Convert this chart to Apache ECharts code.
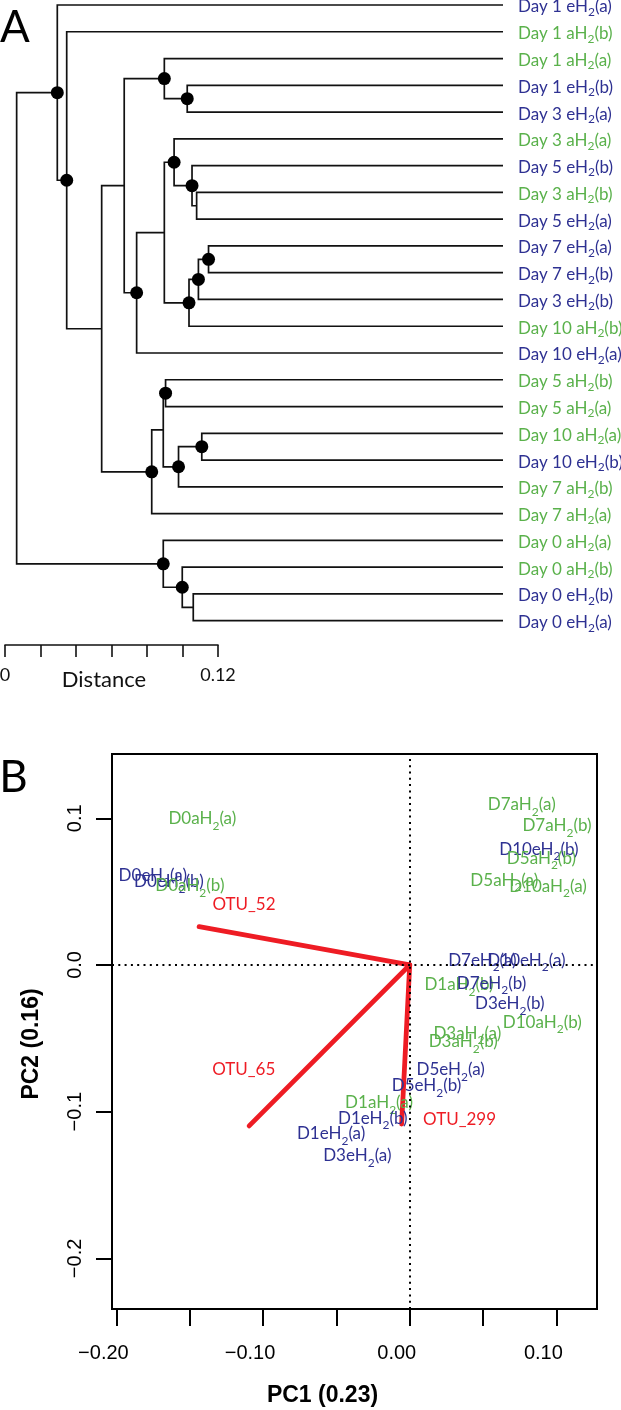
<!DOCTYPE html>
<html><head><meta charset="utf-8">
<script src="https://cdn.jsdelivr.net/npm/echarts@6/dist/echarts.min.js"></script>
<style>html,body{margin:0;padding:0;background:#fff}#c{width:621px;height:1410px}</style>
</head><body><div id="c"></div>
<script>
// ---------- Panel A: dendrogram data ----------
const leafNames = [
  'Day 1 eH2(a)','Day 1 aH2(b)','Day 1 aH2(a)','Day 1 eH2(b)','Day 3 eH2(a)',
  'Day 3 aH2(a)','Day 5 eH2(b)','Day 3 aH2(b)','Day 5 eH2(a)','Day 7 eH2(a)',
  'Day 7 eH2(b)','Day 3 eH2(b)','Day 10 aH2(b)','Day 10 eH2(a)','Day 5 aH2(b)',
  'Day 5 aH2(a)','Day 10 aH2(a)','Day 10 eH2(b)','Day 7 aH2(b)','Day 7 aH2(a)',
  'Day 0 aH2(a)','Day 0 aH2(b)','Day 0 eH2(b)','Day 0 eH2(a)'
];
const nodeIds    = ['R','N1','N2','N3','N4','N5','N5b','N6','N7','N8','N8b','N8c','N9','N10','N11','NL','N12','N13','N14','N15','N16','N17','N18'];
const nodeLeft   = ['N1','L0','L1','N4','N5','L2','L3','N7','N8','L5','L6','L7','N10','N11','L9','N12','N13','L14','N15','L16','L20','L21','L22'];
const nodeRight  = ['N16','N2','N3','NL','N6','N5b','L4','L13','N9','N8b','N8c','L8','L12','L11','L10','L19','N14','L15','L18','L17','N17','N18','L23'];
const nodeHeight = [0.2740,0.2511,0.2458,0.2261,0.2134,0.1908,0.1779,0.2064,0.1908,0.1853,0.1752,0.1726,0.1769,0.1716,0.1659,0.1979,0.1914,0.1901,0.1828,0.1697,0.1914,0.1807,0.1745];
const nodeSupported = [0,1,1,0,0,1,1,1,0,1,1,0,1,1,1,1,0,1,1,1,1,1,0];
const scaleTicks = [0, 0.12];

// ---------- Panel B: PCA biplot data ----------
const sampleNames = ['D0aH2(a)','D0eH2(a)','D0eH2(b)','D0aH2(b)','D7aH2(a)','D7aH2(b)','D10eH2(b)','D5aH2(b)',
  'D5aH2(a)','D10aH2(a)','D7eH2(a)','D10eH2(a)','D1aH2(b)','D7eH2(b)','D3eH2(b)','D10aH2(b)',
  'D3aH2(a)','D3aH2(b)','D5eH2(a)','D5eH2(b)','D1aH2(a)','D1eH2(b)','D1eH2(a)','D3eH2(a)'];
const sampleX = [-0.1414,-0.1752,-0.1642,-0.1499,0.0764,0.1004,0.0881,0.0898,
  0.0645,0.0943,0.0495,0.0796,0.0336,0.0558,0.0682,0.0904,
  0.0393,0.0365,0.0279,0.0115,-0.0209,-0.0252,-0.0536,-0.0357];
const sampleY = [0.0995,0.0613,0.0568,0.0540,0.1091,0.0948,0.0789,0.0727,
  0.0579,0.0534,0.0030,0.0030,-0.0136,-0.0125,-0.0266,-0.0393,
  -0.0466,-0.0523,-0.0716,-0.0825,-0.0939,-0.1045,-0.1152,-0.1302];
const otuNames = ['OTU_52','OTU_65','OTU_299'];
const otuX = [-0.1436,-0.1095,-0.0055];
const otuY = [0.0261,-0.1097,-0.1084];
const otuLabelX = [-0.1130,-0.1132,0.0340];
const otuLabelY = [0.0409,-0.0716,-0.1052];
const pc1Ticks = [-0.2,-0.15,-0.1,-0.05,0,0.05,0.1];
const pc1Labels = [-0.2,-0.1,0,0.1];
const pc2Ticks = [-0.2,-0.1,0,0.1];

// ---------- styling ----------
const BLUE = '#2e3192', GREEN = '#5ab14b', RED = '#ee1c24', INK = '#111';
const LFONT = 'Lato';
const RFONT = 'Liberation Sans';
const PX = 1775; // pixels per distance unit in panel A
const rootH = Math.max(...nodeHeight);

function cls(name){ return name.indexOf('eH') >= 0 ? 'b' : 'g'; }
function richName(name, p){
  const i = name.indexOf('H2');
  const pre = name.slice(0, i + 1), post = name.slice(i + 2);
  const c = p + cls(name);
  return '{' + c + '|' + pre + '}{' + c + 's|2}{' + c + '|' + post + '}';
}
function richStyles(p, fs, lh, sfs){
  const o = {};
  [['b', BLUE], ['g', GREEN]].forEach(([k, col]) => {
    o[p + k] = {color: col, fontSize: fs, lineHeight: lh, fontFamily: LFONT, opacity: 1};
    o[p + k + 's'] = {color: col, fontSize: sfs, lineHeight: sfs, fontFamily: LFONT, verticalAlign: 'bottom', opacity: 1};
  });
  return o;
}
const minus = v => (v < -1e-9 ? '\u2212' : '');

// tree geometry
function idx(id){ return nodeIds.indexOf(id); }
function hOf(id){ return id[0] === 'L' ? 0 : nodeHeight[idx(id)]; }
function yOf(id){
  if (id[0] === 'L') return +id.slice(1);
  const k = idx(id);
  return (yOf(nodeLeft[k]) + yOf(nodeRight[k])) / 2;
}
const segs = nodeIds.map((id, k) => {
  const h = nodeHeight[k], a = nodeLeft[k], b = nodeRight[k];
  return {coords: [[hOf(a), yOf(a)], [h, yOf(a)], [h, yOf(b)], [hOf(b), yOf(b)]]};
});
const dots = nodeIds.filter((id, k) => nodeSupported[k]).map(id => [hOf(id), yOf(id)]);

const chart = echarts.init(document.getElementById('c'), null, {renderer: 'canvas'});
chart.setOption({
  animation: false,
  backgroundColor: '#fff',
  grid: [
    {left: 503 - rootH * PX, top: 5, width: rootH * PX, height: 615.7, outerBoundsMode: 'none', containLabel: false},
    {left: 5, top: 640, width: 0.12 * PX, height: 5, outerBoundsMode: 'none', containLabel: false},
    {left: 112, top: 754, width: 485, height: 555, show: true, borderColor: '#000', borderWidth: 2,
     backgroundColor: 'transparent', outerBoundsMode: 'none', containLabel: false}
  ],
  xAxis: [
    {gridIndex: 0, type: 'value', min: 0, max: rootH, inverse: true, show: false},
    {gridIndex: 1, type: 'value', min: 0, max: 0.12, interval: 0.02, position: 'bottom',
     axisLine: {show: true, onZero: false, lineStyle: {color: INK, width: 1.6}},
     axisTick: {show: true, length: 12, lineStyle: {color: INK, width: 1.6}},
     axisLabel: {customValues: scaleTicks, formatter: v => (v === 0 ? '0' : v.toFixed(2)),
       margin: 21, fontSize: 18, fontFamily: LFONT, color: INK},
     splitLine: {show: false},
     name: 'Distance', nameLocation: 'middle', nameGap: 24, nameMoveOverlap: false,
     nameTextStyle: {fontSize: 22, fontFamily: LFONT, color: INK, padding: [0, 15, 0, 0]}},
    {gridIndex: 2, type: 'value', min: -0.203, max: 0.1277, position: 'bottom',
     axisLine: {show: false, onZero: false},
     axisTick: {show: true, length: 17, customValues: pc1Ticks, lineStyle: {color: '#000', width: 2}},
     axisLabel: {customValues: pc1Labels, formatter: v => minus(v) + Math.abs(v).toFixed(2),
       margin: 34, fontSize: 20, fontFamily: RFONT, color: '#000', padding: [0, 26, 0, 0]},
     splitLine: {show: false},
     name: 'PC1 (0.23)', nameLocation: 'middle', nameGap: 75, nameMoveOverlap: false,
     nameTextStyle: {fontSize: 23, fontWeight: 'bold', fontFamily: RFONT, color: '#000', padding: [0, 64, 0, 0]}}
  ],
  yAxis: [
    {gridIndex: 0, type: 'value', min: 0, max: leafNames.length - 1, inverse: true, position: 'right',
     axisLine: {show: false, onZero: false}, axisTick: {show: false}, splitLine: {show: false},
     axisLabel: {customValues: leafNames.map((_, i) => i), formatter: v => richName(leafNames[Math.round(v)], 'a'),
       margin: 15, padding: [4, 0, 0, 0], rich: richStyles('a', 17, 22, 12)}},
    {gridIndex: 1, type: 'value', show: false},
    {gridIndex: 2, type: 'value', min: -0.2345, max: 0.1438, position: 'left',
     axisLine: {show: false, onZero: false},
     axisTick: {show: true, length: 16, customValues: pc2Ticks, lineStyle: {color: '#000', width: 2}},
     axisLabel: {customValues: pc2Ticks, rotate: 90, formatter: v => minus(v) + Math.abs(v).toFixed(1),
       margin: 27, fontSize: 20, fontFamily: RFONT, color: '#000'},
     splitLine: {show: false},
     name: 'PC2 (0.16)', nameLocation: 'middle', nameGap: 69, nameMoveOverlap: false,
     nameTextStyle: {fontSize: 23, fontWeight: 'bold', fontFamily: RFONT, color: '#000', padding: [0, 25, 0, 0]}}
  ],
  series: [
    {type: 'lines', coordinateSystem: 'cartesian2d', xAxisIndex: 0, yAxisIndex: 0, polyline: true, clip: false,
     silent: true, data: segs, lineStyle: {color: INK, width: 1.7, opacity: 1}},
    {type: 'scatter', xAxisIndex: 0, yAxisIndex: 0, data: dots, symbolSize: 13, clip: false, silent: true,
     itemStyle: {color: '#000', opacity: 1}},
    {type: 'lines', coordinateSystem: 'cartesian2d', xAxisIndex: 2, yAxisIndex: 2, polyline: false, silent: true,
     data: otuNames.map((n, i) => ({coords: [[0, 0], [otuX[i], otuY[i]]]})),
     lineStyle: {color: RED, width: 4.8, opacity: 1, cap: 'round'},
     markLine: {silent: true, symbol: ['none', 'none'], label: {show: false},
       lineStyle: {color: '#000', width: 2, type: [2, 4.3], opacity: 1},
       data: [{xAxis: 0}, {yAxis: 0}]}},
    {type: 'scatter', xAxisIndex: 2, yAxisIndex: 2, symbolSize: 1, silent: true,
     itemStyle: {color: 'rgba(0,0,0,0)', opacity: 1},
     data: sampleNames.map((n, i) => ({name: n, value: [sampleX[i], sampleY[i]]})),
     label: {show: true, position: 'inside', opacity: 1, formatter: p => richName(p.name, 'p'), rich: richStyles('p', 17, 26, 12)}},
    {type: 'scatter', xAxisIndex: 2, yAxisIndex: 2, symbolSize: 1, silent: true,
     itemStyle: {color: 'rgba(0,0,0,0)', opacity: 1},
     data: otuNames.map((n, i) => ({name: n, value: [otuLabelX[i], otuLabelY[i]]})),
     label: {show: true, position: 'inside', opacity: 1, formatter: p => p.name, color: RED, fontSize: 17, fontFamily: LFONT}}
  ],
  graphic: [
    {type: 'text', x: 15, y: 28, style: {text: 'A', font: '44px Lato', fill: '#000', textAlign: 'center', textVerticalAlign: 'middle'}},
    {type: 'text', x: 13.5, y: 778, style: {text: 'B', font: '44px Lato', fill: '#000', textAlign: 'center', textVerticalAlign: 'middle'}}
  ]
});
</script></body></html>
